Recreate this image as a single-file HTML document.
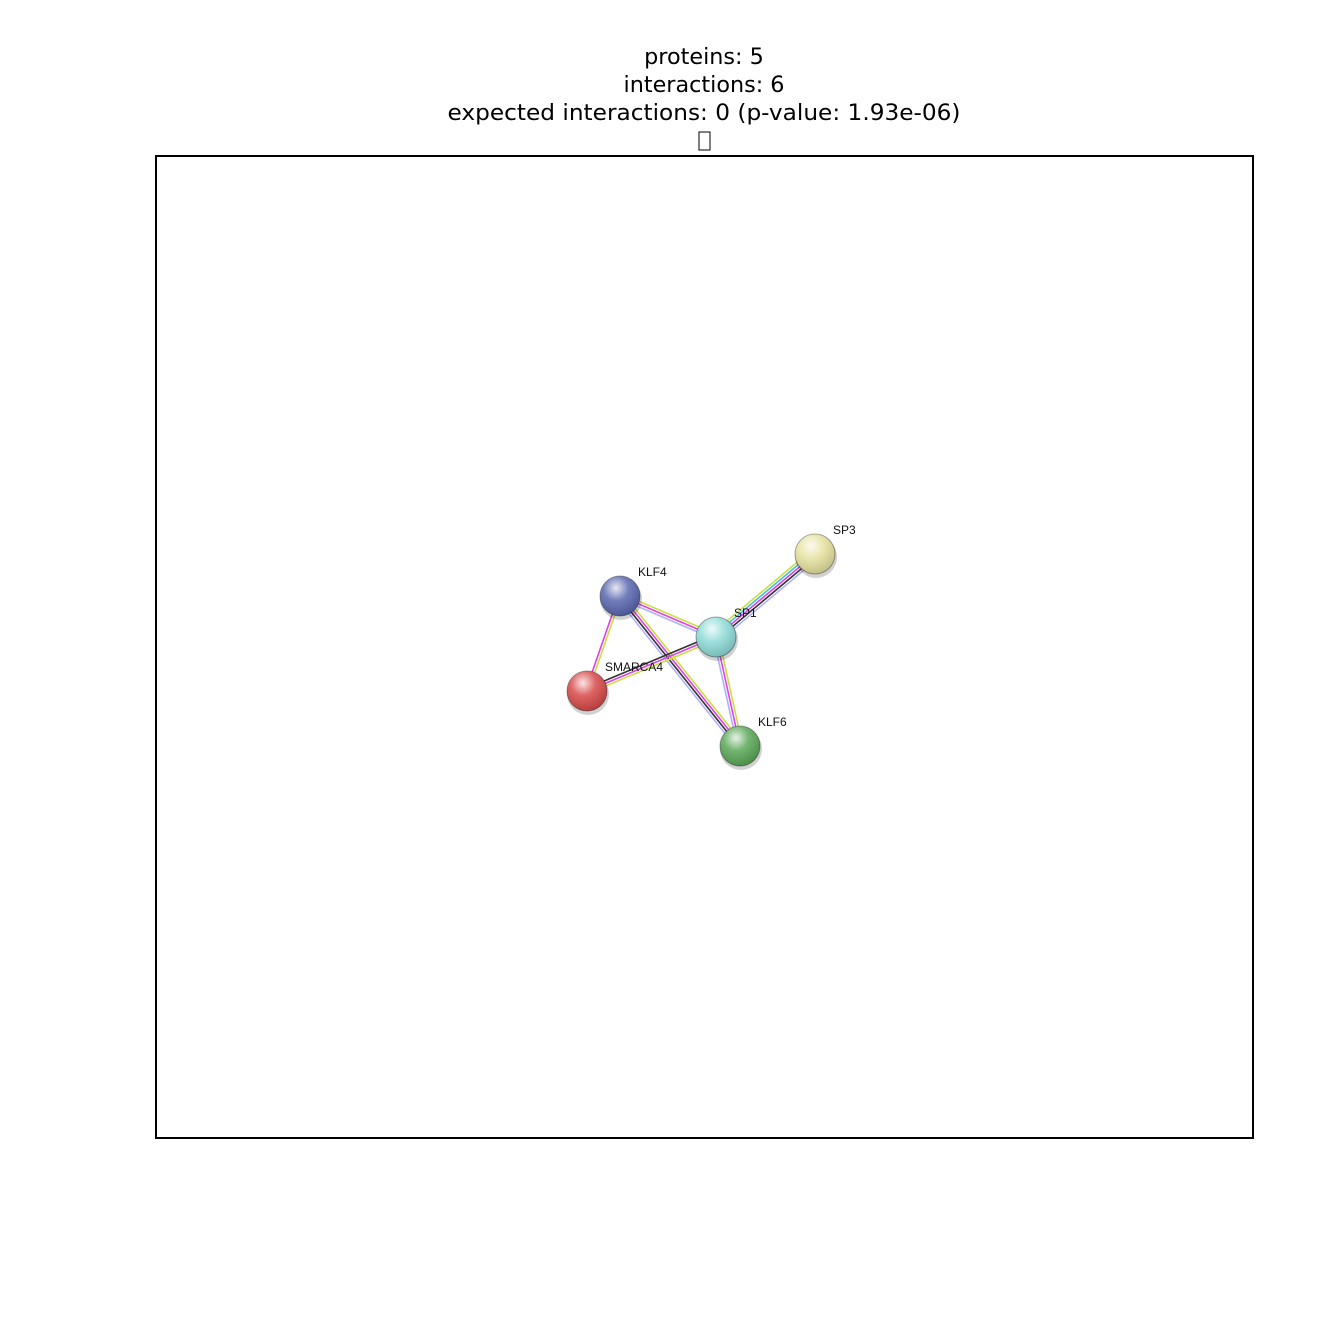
<!DOCTYPE html>
<html><head><meta charset="utf-8"><style>html,body{margin:0;padding:0;background:#fff}svg{display:block}</style></head>
<body>
<svg id="chart" width="1333" height="1333" viewBox="0 0 1333 1333" xmlns="http://www.w3.org/2000/svg">
<defs>
<radialGradient id="shine" cx="0.4" cy="0.3" r="0.7"><stop offset="0" stop-color="#fff" stop-opacity="0.85"/><stop offset="0.45" stop-color="#fff" stop-opacity="0.15"/><stop offset="1" stop-color="#000" stop-opacity="0.15"/></radialGradient>
</defs>
<g font-family="DejaVu Sans, sans-serif" font-size="22.3" text-anchor="middle" fill="#000">
<text x="704" y="64">proteins: 5</text>
<text x="704" y="92">interactions: 6</text>
<text x="704" y="120" textLength="513" lengthAdjust="spacingAndGlyphs">expected interactions: 0 (p-value: 1.93e-06)</text>
<rect x="699" y="132" width="11" height="18" fill="none" stroke="#000" stroke-width="1"/>
</g>
<rect x="156" y="156" width="1097" height="982" fill="none" stroke="#000" stroke-width="2"/>
<g id="edges"></g>
<g id="nodes"></g>
</svg>
<script>
const names = ["KLF4","SP1","SP3","SMARCA4","KLF6"];
const nodeX = [620,716,815,587,740];
const nodeY = [596,637,554,691,746];
const nodeColors = ["#5a68b0","#8fdcd8","#e6e2a0","#d94a4a","#5aa858"];
const edgeFrom = ["KLF4","KLF4","KLF4","SP1","SP1","SP1"];
const edgeTo = ["SP1","SMARCA4","KLF6","SP3","SMARCA4","KLF6"];
const edgeChannels = [
 ["#c8e040","#e040e0","#b0b0ff"],
 ["#c8e040","#e040e0"],
 ["#c8e040","#e040e0","#333333","#b0b0ff"],
 ["#c8e040","#40c0e0","#e040e0","#333333","#b0b0ff"],
 ["#c8e040","#e040e0","#333333"],
 ["#c8e040","#e040e0","#b0b0ff"]
];
const NS="http://www.w3.org/2000/svg";
const eg=document.getElementById('edges'), ng=document.getElementById('nodes');
function idx(n){return names.indexOf(n);}
edgeFrom.forEach((f,i)=>{
 const a=idx(f), b=idx(edgeTo[i]);
 const x1=nodeX[a],y1=nodeY[a],x2=nodeX[b],y2=nodeY[b];
 const L=Math.hypot(x2-x1,y2-y1), nx=-(y2-y1)/L, ny=(x2-x1)/L;
 const ch=edgeChannels[i], n=ch.length;
 ch.forEach((c,k)=>{
  const o=(k-(n-1)/2)*2.6;
  const l=document.createElementNS(NS,'line');
  
  
  l.setAttribute('x1',x1+nx*o);l.setAttribute('y1',y1+ny*o);
  l.setAttribute('x2',x2+nx*o);l.setAttribute('y2',y2+ny*o);
  l.setAttribute('stroke',c);l.setAttribute('stroke-width','1.6');
  eg.appendChild(l);
 });
});
names.forEach((n,i)=>{
 const g=document.createElementNS(NS,'g');
 
 
 const sh=document.createElementNS(NS,'circle');
 sh.setAttribute('cx',nodeX[i]+1);sh.setAttribute('cy',nodeY[i]+3);sh.setAttribute('r',21);sh.setAttribute('fill','rgba(0,0,0,0.18)');
 g.appendChild(sh);
 const c=document.createElementNS(NS,'circle');
 c.setAttribute('cx',nodeX[i]);c.setAttribute('cy',nodeY[i]);c.setAttribute('r',20);
 c.setAttribute('fill',nodeColors[i]);c.setAttribute('stroke','rgba(0,0,0,0.35)');c.setAttribute('stroke-width','1');
 g.appendChild(c);
 const s=document.createElementNS(NS,'circle');
 s.setAttribute('cx',nodeX[i]);s.setAttribute('cy',nodeY[i]);s.setAttribute('r',20);s.setAttribute('fill','url(#shine)');
 g.appendChild(s);
 const t=document.createElementNS(NS,'text');
 
 
 t.setAttribute('x',nodeX[i]+18);t.setAttribute('y',nodeY[i]-20);
 t.setAttribute('font-family','Liberation Sans, sans-serif');t.setAttribute('font-size','12');t.setAttribute('fill','#111');
 t.textContent=n;
 g.appendChild(t);
 ng.appendChild(g);
});
</script>
</body></html>
